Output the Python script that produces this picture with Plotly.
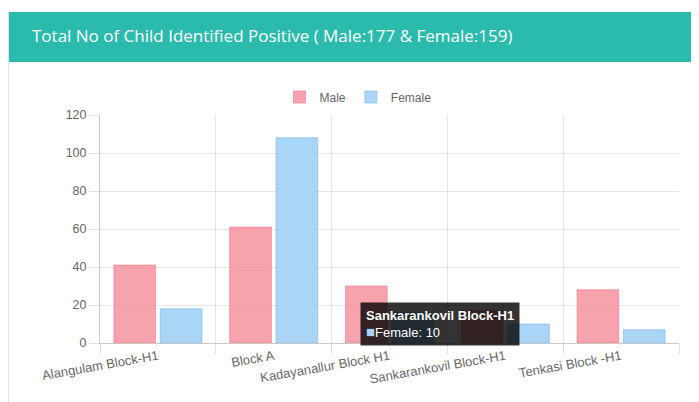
import plotly.graph_objects as go

categories = ["Alangulam Block-H1", "Block A", "Kadayanallur Block H1",
              "Sankarankovil Block-H1", "Tenkasi Block -H1"]
male = [41, 61, 30, 17, 28]
female = [18, 108, 16, 10, 7]
y_ticks = [0, 20, 40, 60, 80, 100, 120]
title_text = "Total No of Child Identified Positive ( Male:177 & Female:159)"

# page has an 8px body margin, so the figure is 8px smaller and shifted
OFF = 8
W, H = 699 - OFF, 402 - OFF
L, R, T, B = 100 - OFF, 20, 115 - OFF, 59
PW, PH = W - L - R, H - T - B


def px(xp):
    return (xp - OFF - L) / PW


def py(yp):
    return (H - B - (yp - OFF)) / PH


fig = go.Figure()
fig.add_trace(go.Bar(name="Male", x=categories, y=male,
                     marker=dict(color="rgba(245,140,152,0.8)",
                                 line=dict(color="rgba(240,120,135,0.6)", width=1))))
fig.add_trace(go.Bar(name="Female", x=categories, y=female,
                     marker=dict(color="rgba(160,208,246,0.9)",
                                 line=dict(color="rgba(120,185,235,0.6)", width=1))))

fig.update_layout(
    width=W, height=H,
    margin=dict(l=L, r=R, t=T, b=B, pad=0, autoexpand=False),
    paper_bgcolor="white", plot_bgcolor="white",
    barmode="group", bargap=0.2, bargroupgap=0.1,
    font=dict(family="Liberation Sans, Arial, sans-serif", size=12, color="#666"),
    title=dict(text=title_text, x=(32 - OFF) / W, xanchor="left", xref="container",
               y=1 - (36 - OFF) / H, yanchor="middle", yref="container",
               font=dict(family="Open Sans, sans-serif", size=17, color="white")),
    legend=dict(orientation="h", x=px(358), xref="paper", xanchor="center",
                y=py(97), yref="paper", yanchor="middle",
                font=dict(size=12, color="#666")),
    showlegend=True,
    shapes=[
        dict(type="rect", xref="paper", yref="paper",
             x0=px(8), x1=px(W + 20),
             y0=py(62), y1=py(12),
             fillcolor="#2bbbad", line=dict(width=0), layer="below"),
        dict(type="line", xref="paper", yref="paper",
             x0=px(8.5), x1=px(8.5),
             y0=py(402), y1=py(12),
             line=dict(color="#e3e3e3", width=1), layer="below"),
    ],
    annotations=[
        dict(xref="paper", yref="paper",
             x=px(520), xanchor="right",
             y=py(324), yanchor="middle",
             text="<b>Sankarankovil Block-H1</b><br><span style='color:#a9d3f5;font-size:15px'>■</span>Female: 10",
             align="left", showarrow=False,
             font=dict(family="Liberation Sans, Arial, sans-serif", size=13, color="white"),
             bgcolor="rgba(0,0,0,0.8)", borderpad=5),
    ],
)

fig.update_xaxes(
    automargin=False,
    tickson="boundaries", showgrid=True, gridcolor="#e6e6e6", gridwidth=1,
    ticks="outside", ticklen=10, tickcolor="#e0e0e0",
    showline=True, linecolor="#c8c8c8", mirror=False,
    tickangle=-10, tickfont=dict(size=13, color="#666"),
)
fig.update_yaxes(
    automargin=False,
    range=[0, 120], tickvals=y_ticks, showgrid=True, gridcolor="#e6e6e6",
    ticks="outside", ticklen=10, tickcolor="#e0e0e0",
    showline=True, linecolor="#c8c8c8", zeroline=False,
    tickfont=dict(size=12.5, color="#666"),
)

fig.write_html("out.html")
